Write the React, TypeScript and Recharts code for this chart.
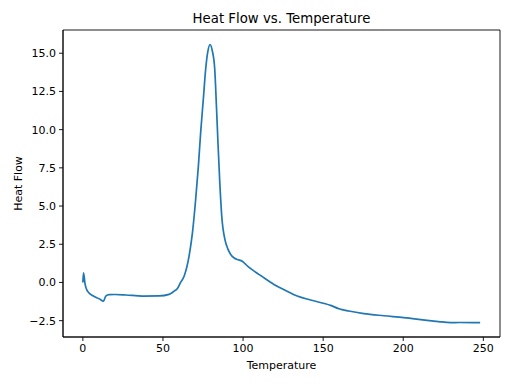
import React from 'react';
import { LineChart, Line, XAxis, YAxis, ReferenceArea, Customized } from 'recharts';

// values
const temperature = [
  0, 0.4, 1.4, 2.9, 6, 10.2, 12.9, 14.3, 16.4, 20, 26.8, 37.2, 47.6, 53.8, 57, 59, 61,
  63.2, 66.3, 68.4, 70.4, 72.1, 73.6, 75.2, 76.7, 78, 79.4, 80.7, 82.3, 83.4, 84.4, 85.4,
  86.7, 88.7, 90.5, 92.3, 94.5, 96.4, 99.5, 103, 107.9, 111, 119.3, 126, 133.8, 142.1,
  154.6, 159.8, 166, 175.4, 188, 200.3, 214.9, 222, 229.4, 235, 248,
];
const heatFlow = [
  0, 0.63, -0.13, -0.57, -0.85, -1.07, -1.22, -0.89, -0.8, -0.79, -0.82, -0.89, -0.88, -0.78, -0.57, -0.4, 0,
  0.41, 1.72, 3.24, 5.41, 7.6, 9.9, 12.0, 14.0, 15.1, 15.57, 15.2, 14.0, 11.5, 9.0, 6.7,
  4.33, 2.8, 2.2, 1.83, 1.6, 1.5, 1.39, 1.05, 0.67, 0.45, -0.13, -0.5, -0.89, -1.15,
  -1.5, -1.72, -1.87, -2.04, -2.18, -2.3, -2.48, -2.56, -2.63, -2.62, -2.63,
];
const xTicks = [0, 50, 100, 150, 200, 250];
const yTicks = [-2.5, 0, 2.5, 5, 7.5, 10, 12.5, 15];
const xDomain = [-12.4, 260.4];
const yDomain = [-3.57, 16.52];

const data = temperature.map((t, i) => ({ t, hf: heatFlow[i] }));

const font = 'DejaVu Sans, sans-serif';
const tickStyle = { fill: '#000', fontSize: 11, fontFamily: font };

const fmtY = (v: number) => {
  const s = Math.abs(v).toFixed(1);
  return v < 0 ? '\u2212' + s : s;
};

const Labels = () => (
  <g fontFamily={font} fill="#000">
    <text x={281.5} y={23} fontSize={13.3} textAnchor="middle">Heat Flow vs. Temperature</text>
    <text x={281.5} y={369} fontSize={11} textAnchor="middle">Temperature</text>
    <text x={22} y={183.5} fontSize={11} textAnchor="middle" transform="rotate(-90, 22, 183.5)">Heat Flow</text>
  </g>
);

export default function App() {
  return (
    <div style={{ position: 'absolute', left: 0, top: 0, width: 512, height: 384, background: '#fff' }}>
      <LineChart width={512} height={384} data={data} margin={{ top: 30, right: 12, bottom: 0, left: 0 }}>
        <XAxis
          dataKey="t"
          type="number"
          domain={xDomain}
          ticks={xTicks}
          height={47}
          tickSize={4}
          tickMargin={3}
          tick={tickStyle}
          axisLine={{ stroke: '#000', strokeWidth: 0.9 }}
          tickLine={{ stroke: '#000', strokeWidth: 0.9 }}
          allowDataOverflow
        />
        <YAxis
          type="number"
          domain={yDomain}
          ticks={yTicks}
          width={63}
          tickSize={4}
          tickMargin={3}
          tick={tickStyle}
          tickFormatter={fmtY}
          axisLine={{ stroke: '#000', strokeWidth: 0.9 }}
          tickLine={{ stroke: '#000', strokeWidth: 0.9 }}
          allowDataOverflow
        />
        {/* matplotlib-style frame round the plot area */}
        <ReferenceArea
          x1={xDomain[0]}
          x2={xDomain[1]}
          y1={yDomain[0]}
          y2={yDomain[1]}
          fill="none"
          stroke="#000"
          strokeWidth={0.9}
          ifOverflow="visible"
        />
        <Line
          type="monotone"
          dataKey="hf"
          stroke="#1f77b4"
          strokeWidth={1.7}
          dot={false}
          activeDot={false}
          isAnimationActive={false}
        />
        <Customized component={Labels} />
      </LineChart>
    </div>
  );
}
